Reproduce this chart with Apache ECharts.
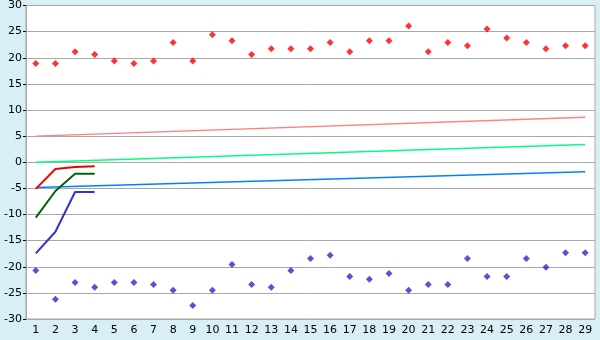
<!DOCTYPE html>
<html><head><meta charset="utf-8">
<script src="https://cdn.jsdelivr.net/npm/echarts@6/dist/echarts.min.js"></script>
<style>html,body{margin:0;padding:0;background:#d9eff6;}#c{width:600px;height:340px;}</style>
</head><body><div id="c"></div>
<script>
const categories = ['1','2','3','4','5','6','7','8','9','10','11','12','13','14','15','16','17','18','19','20','21','22','23','24','25','26','27','28','29'];
const yTicks = { min: -30, max: 30, interval: 5 };
const redPoints = [18.9,18.9,21.15,20.6,19.4,18.9,19.4,22.9,19.4,24.4,23.25,20.6,21.7,21.7,21.7,22.9,21.15,23.25,23.25,26.1,21.15,22.9,22.3,25.5,23.8,22.9,21.7,22.3,22.3];
const bluePoints = [-20.7,-26.2,-23.0,-23.9,-23.0,-23.0,-23.4,-24.5,-27.4,-24.5,-19.55,-23.4,-23.9,-20.7,-18.4,-17.8,-21.85,-22.4,-21.3,-24.5,-23.4,-23.4,-18.4,-21.85,-21.85,-18.4,-20.1,-17.3,-17.3];
const pinkLineEnds = [5.0, 8.6];
const greenLineEnds = [0.0, 3.4];
const blueLineEnds = [-4.85, -1.8];
const redShort = [-5.1, -1.3, -0.9, -0.75];
const greenShort = [-10.6, -5.5, -2.2, -2.2];
const blueShort = [-17.45, -13.3, -5.7, -5.7];

function ends(e){ const a = categories.map(()=>null); a[0]=e[0]; a[a.length-1]=e[1]; return a; }

const chart = echarts.init(document.getElementById('c'), null, {renderer:'canvas'});
const font = 'DejaVu Sans';
chart.setOption({
  animation:false,
  backgroundColor:'#d9eff6',
  grid:{left:26,right:5,top:5,bottom:21,show:true,backgroundColor:'#ffffff',borderColor:'#a8a8a8',borderWidth:1},
  xAxis:{type:'category',data:categories,boundaryGap:true,
    axisLine:{lineStyle:{color:'#a8a8a8'}},
    axisTick:{alignWithLabel:true,length:4,lineStyle:{color:'#000'}},
    axisLabel:{color:'#000',fontFamily:font,fontSize:11,margin:6,interval:0},
    splitLine:{show:false}},
  yAxis:{type:'value',min:yTicks.min,max:yTicks.max,interval:yTicks.interval,
    axisLine:{show:true,lineStyle:{color:'#a8a8a8'}},
    axisTick:{show:true,length:3,lineStyle:{color:'#000'}},
    axisLabel:{color:'#000',fontFamily:font,fontSize:11,margin:4},
    splitLine:{lineStyle:{color:'#a8a8a8',width:1}}},
  series:[
    {type:'line',data:ends(pinkLineEnds),connectNulls:true,symbol:'none',lineStyle:{color:'#ff8080',width:1.5}},
    {type:'line',data:ends(greenLineEnds),connectNulls:true,symbol:'none',lineStyle:{color:'#00ff80',width:1.5}},
    {type:'line',data:ends(blueLineEnds),connectNulls:true,symbol:'none',lineStyle:{color:'#0080ff',width:1.5}},
    {type:'line',data:redShort,symbol:'none',lineStyle:{color:'#ee0000',width:2}},
    {type:'line',data:greenShort,symbol:'none',lineStyle:{color:'#006400',width:2}},
    {type:'line',data:blueShort,symbol:'none',lineStyle:{color:'#3333cc',width:2}},
    {type:'scatter',data:redPoints,symbol:'diamond',symbolSize:7,itemStyle:{color:'#ff0000'}},
    {type:'scatter',data:bluePoints,symbol:'diamond',symbolSize:7,itemStyle:{color:'#2a2ac8'}}
  ]
});
</script></body></html>
